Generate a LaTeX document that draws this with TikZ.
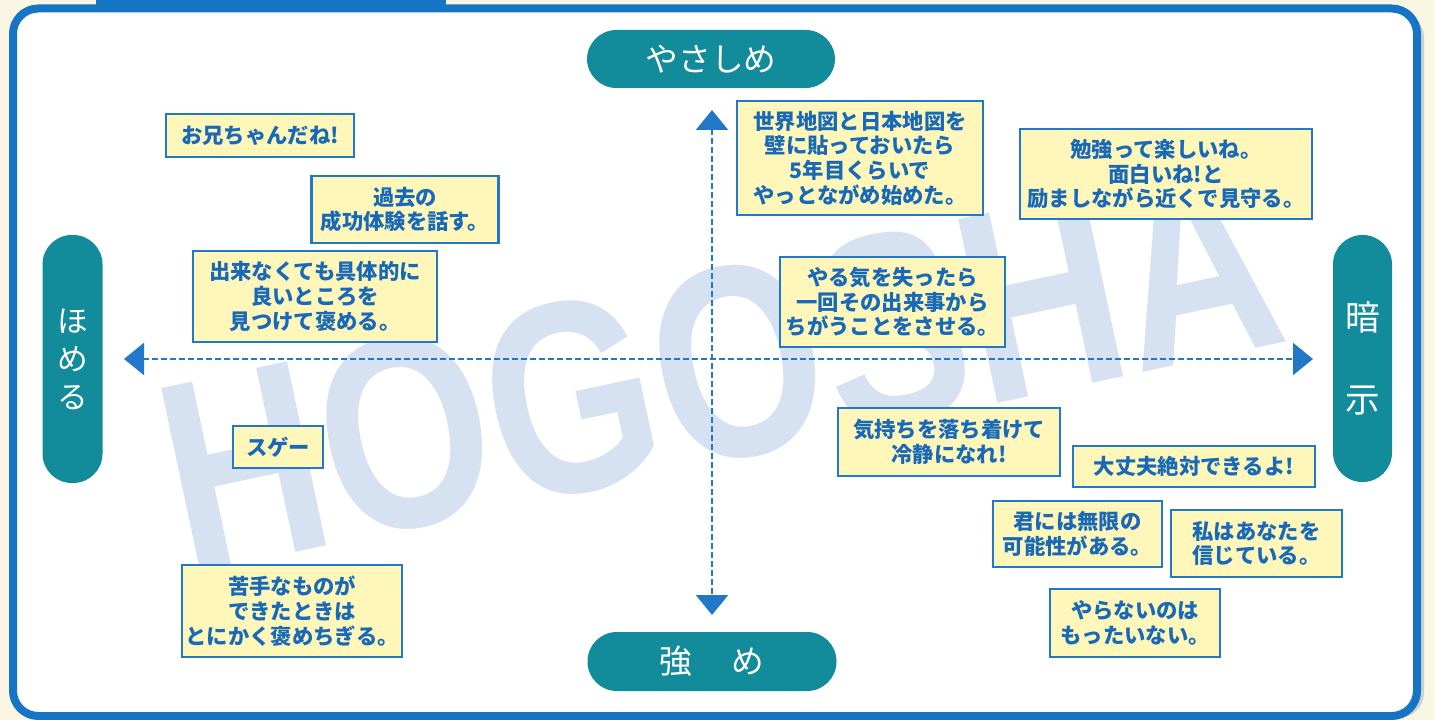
\documentclass[tikz,border=0pt]{standalone}
\usepackage{fontspec}
\setmainfont{Noto Sans CJK JP}
\newfontfamily\wmfont{Liberation Sans}
\usepackage{graphicx}
\usepackage{tikz}
\usetikzlibrary{arrows.meta}
\definecolor{cream}{RGB}{250,246,228}
\definecolor{frameblue}{RGB}{22,116,196}
\definecolor{boxblue}{RGB}{34,120,200}
\definecolor{boxfill}{RGB}{255,246,186}
\definecolor{textblue}{RGB}{25,105,185}
\definecolor{pillteal}{RGB}{18,139,154}
\definecolor{wmblue}{RGB}{214,226,242}
\definecolor{shadowgray}{RGB}{205,208,212}

\begin{document}
\begin{tikzpicture}[x=0.75pt,y=0.75pt,yscale=-1,xscale=1,
        remark/.style={draw=boxblue,line width=1.9pt,fill=boxfill,text=textblue,align=center,inner sep=0pt,font=\fontsize{16}{18.5}\selectfont\bfseries},
        sized/.style 2 args={minimum width=#1*0.75pt,minimum height=#2*0.75pt},
        pill/.style={fill=pillteal,text=white,rounded corners=22pt,inner sep=0pt},
        axis/.style={draw=boxblue,line width=1.6pt,dash pattern=on 4.5pt off 2.25pt,<->,>={Triangle[length=15pt,width=24pt]}},
        watermark/.style={text=wmblue,rotate=12,inner sep=0pt,font=\wmfont\bfseries\fontsize{205}{205}\selectfont}]
        \useasboundingbox (0,0) rectangle (1435,720);
        \fill[cream] (0,0) rectangle (1435,720);
        \fill[frameblue] (96,0) rectangle (446,12);
        \fill[shadowgray, rounded corners=19pt] (20,12) rectangle (1424,718);
        \draw[frameblue, line width=6pt, fill=white, rounded corners=19pt] (13,8.5) rectangle (1417,716);

        \node[watermark] (logo) at (720,366) {\scalebox{0.8}[1]{HOGOSHA}};

        \coordinate (leftend) at (124,359);
        \coordinate (rightend) at (1313,359);
        \coordinate (topend) at (712,110);
        \coordinate (bottomend) at (712,615);
        \draw[axis] (leftend) -- (rightend);
        \draw[axis] (topend) -- (bottomend);

        \node[pill, sized={248}{58}, font=\fontsize{24.5}{24.5}\selectfont] (yasashime) at (711,59) {やさしめ};
        \node[pill, sized={249}{59}, font=\fontsize{24.5}{24.5}\selectfont] (tsuyome) at (712,661.5) {強\hspace{1.2em}め};
        \node[pill, sized={60}{248}, align=center, font=\fontsize{23}{28.5}\selectfont] (homeru) at (72.5,359) {ほ\\め\\る};
        \node[pill, sized={59}{247}, align=center, font=\fontsize{26}{61}\selectfont] (anji) at (1362.5,358.5) {暗\\示};

        \node[remark, sized={188}{43}] (onii) at (260,135.5) {お兄ちゃんだね!};
        \node[remark, sized={187}{67}] (kako) at (405,209.5) {過去の\\成功体験を話す。};
        \node[remark, sized={244}{91}] (gutai) at (315,296.5) {出来なくても具体的に\\良いところを\\見つけて褒める。};
        \node[remark, sized={90}{42}] (suge) at (278,447) {スゲー};
        \node[remark, sized={220}{92}] (nigate) at (292,611) {苦手なものが\\できたときは\\とにかく褒めちぎる。};
        \node[remark, sized={246}{114}] (chizu) at (860,158) {世界地図と日本地図を\\壁に貼っておいたら\\5年目くらいで\\やっとながめ始めた。};
        \node[remark, sized={292}{90}] (benkyo) at (1166,174) {勉強って楽しいね。\\面白いね!と\\励ましながら近くで見守る。};
        \node[remark, sized={225}{90}] (yaruki) at (892.5,302) {やる気を失ったら\\一回その出来事から\\ちがうことをさせる。};
        \node[remark, sized={222}{68}] (kimochi) at (949,442) {気持ちを落ち着けて\\冷静になれ!};
        \node[remark, sized={242}{41}] (daijobu) at (1194,466.5) {大丈夫絶対できるよ!};
        \node[remark, sized={169}{66}] (mugen) at (1077.5,534) {君には無限の\\可能性がある。};
        \node[remark, sized={171}{67}] (shinjiru) at (1256.5,543.5) {私はあなたを\\信じている。};
        \node[remark, sized={170}{68}] (mottainai) at (1135,623) {やらないのは\\もったいない。};
\end{tikzpicture}
\end{document}
